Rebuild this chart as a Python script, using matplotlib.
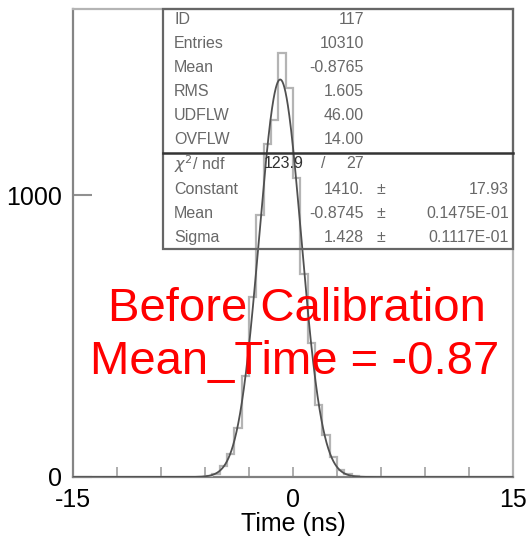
import numpy as np
import matplotlib
matplotlib.use("Agg")
import matplotlib.pyplot as plt

plt.rcParams['font.family'] = ['Liberation Sans', 'DejaVu Sans']
plt.rcParams['axes.unicode_minus'] = False

# histogram: 60 bins of 0.5 ns from -15 to 15
bin_edges = np.linspace(-15, 15, 61)
counts = [0] * 18 + [5, 12, 38, 82, 175, 360, 640, 930, 1180, 1265, 1503,
                     1380, 1060, 720, 475, 255, 150, 70, 24, 9, 3] + [0] * 21

# gaussian fit parameters
fit_const = 1410.0
fit_mean = -0.8745
fit_sigma = 1.428

stat_names = ["ID", "Entries", "Mean", "RMS", "UDFLW", "OVFLW"]
stat_values = ["117", "10310", "-0.8765", "1.605", "46.00", "14.00"]
fit_names = ["Constant", "Mean", "Sigma"]
fit_values = ["1410.", "-0.8745", "1.428"]
fit_errors = ["17.93", "0.1475E-01", "0.1117E-01"]

W, H = 531, 536
fig = plt.figure(figsize=(W / 100, H / 100), dpi=100)
ax = fig.add_axes([73 / W, 1 - 477 / H, 440 / W, 468 / H])

ax.stairs(counts, bin_edges, color="#b4b4b4", lw=1.6, zorder=3)
xf = np.linspace(-15, 15, 1500)
yf = fit_const * np.exp(-0.5 * ((xf - fit_mean) / fit_sigma) ** 2)
ax.plot(xf, yf, color="#505050", lw=1.3, zorder=4)

ax.set_xlim(-15, 15)
ax.set_ylim(0, 1660)
ax.set_xticks([-15, 0, 15])
ax.set_xticks(np.arange(-12, 13, 3), minor=True)
ax.set_yticks([0, 1000])
ax.tick_params(axis="x", which="both", direction="in", length=7, width=1.2,
               color="#a0a0a0", labelsize=18, pad=8)
ax.tick_params(axis="y", which="major", direction="in", length=14, width=1.5,
               color="#909090", labelsize=18, pad=8)
for side, c in [("left", "#858585"), ("bottom", "#808080"),
                ("top", "#b4b4b4"), ("right", "#b4b4b4")]:
    ax.spines[side].set_color(c)
    ax.spines[side].set_linewidth(1.6)
ax.set_xlabel("Time (ns)", fontsize=18, labelpad=0)


def px(x, y):
    return x / W, 1 - y / H


# stats box
bx0, bx1, by0, by1, ydiv = 163, 513, 9, 249, 153
fig.add_artist(plt.Rectangle(px(bx0, by1), (bx1 - bx0) / W, (by1 - by0) / H,
                             fill=False, ec="#666666", lw=1.6, zorder=1))
fig.add_artist(plt.Line2D([bx0 / W, bx1 / W], [1 - ydiv / H] * 2,
                          color="#333333", lw=1.8, zorder=1))

tc = "#686868"
fs = 11.5
rows = [20, 44, 68, 92, 116, 140]
for name, val, y in zip(stat_names, stat_values, rows):
    fig.text(*px(174, y), name, fontsize=fs, color=tc, va="center", ha="left")
    fig.text(*px(364, y), val, fontsize=fs, color=tc, va="center", ha="right")

fig.text(*px(174, 164), r"$\chi^2$/ ndf", fontsize=fs, color=tc, va="center")
fig.text(*px(304, 164), "123.9", fontsize=fs, color="#303030", va="center", ha="right")
fig.text(*px(323, 164), "/", fontsize=fs, color=tc, va="center", ha="center")
fig.text(*px(364, 164), "27", fontsize=fs, color=tc, va="center", ha="right")

for name, val, err, y in zip(fit_names, fit_values, fit_errors, [189, 213, 237]):
    fig.text(*px(174, y), name, fontsize=fs, color=tc, va="center", ha="left")
    fig.text(*px(364, y), val, fontsize=fs, color=tc, va="center", ha="right")
    fig.text(*px(381, y), "\u00b1", fontsize=fs, color=tc, va="center", ha="center")
    fig.text(*px(509, y), err, fontsize=fs, color=tc, va="center", ha="right")

fig.text(*px(297, 309), "Before Calibration", fontsize=34, color="red",
         ha="center", va="center")
fig.text(*px(295, 362), "Mean_Time = -0.87", fontsize=34, color="red",
         ha="center", va="center")

fig.savefig("out.png", dpi=100)
